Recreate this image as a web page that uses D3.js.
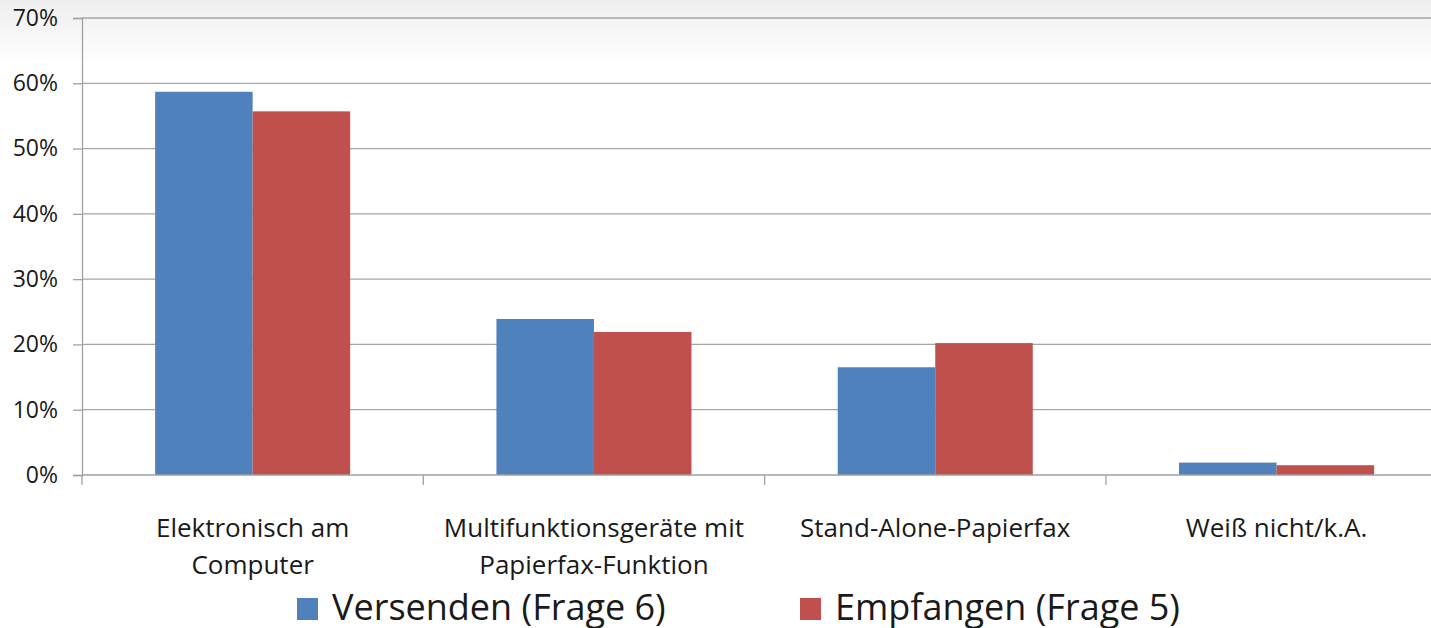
<!DOCTYPE html>
<html>
<head>
<meta charset="utf-8">
<style>
  body { margin: 0; background: #fff; }
  svg text { font-family: "Open Sans", sans-serif; fill: #1a1a1a; }
</style>
</head>
<body>
<script src="https://cdn.jsdelivr.net/npm/d3@7"></script>
<script>
var categories = [["Elektronisch am", "Computer"], ["Multifunktionsgeräte mit", "Papierfax-Funktion"], ["Stand-Alone-Papierfax"], ["Weiß nicht/k.A."]];
var seriesNames = ["Versenden (Frage 6)", "Empfangen (Frage 5)"];
var seriesColors = ["#4f81bd", "#c0504d"];
var versenden = [58.7, 23.9, 16.5, 1.9];
var empfangen = [55.7, 21.9, 20.2, 1.5];
var yTicks = [0, 10, 20, 30, 40, 50, 60, 70];

var width = 1431, height = 628;
var plotLeft = 82, plotTop = 18, plotBottom = 475, catW = 341.3;

var svg = d3.select("body").append("svg").attr("width", width).attr("height", height);

var grad = svg.append("defs").append("linearGradient")
  .attr("id", "bg").attr("x1", 0).attr("y1", 0).attr("x2", 0).attr("y2", 1);
grad.append("stop").attr("offset", 0).attr("stop-color", "#eeeeee");
grad.append("stop").attr("offset", 1).attr("stop-color", "#ffffff");
svg.append("rect").attr("width", width).attr("height", 65).attr("fill", "url(#bg)");

var x0 = d3.scaleBand().domain(d3.range(categories.length)).range([plotLeft, plotLeft + catW * categories.length]);
var x1 = d3.scaleBand().domain([0, 1]).range([0, x0.bandwidth()]).paddingOuter(0.75).paddingInner(0);
var y = d3.scaleLinear().domain([0, 70]).range([plotBottom, plotTop]);

// gridlines
svg.append("g").selectAll("line").data(yTicks.slice(1)).join("line")
  .attr("x1", plotLeft).attr("x2", width)
  .attr("y1", d => y(d)).attr("y2", d => y(d))
  .attr("stroke", "#a6a6a6").attr("stroke-width", 1.3);

// y axis
var yAxis = svg.append("g").attr("transform", "translate(" + plotLeft + ",0)")
  .call(d3.axisLeft(y).tickValues(yTicks).tickFormat(d => d + "%").tickSize(9).tickPadding(15));
yAxis.select(".domain").attr("stroke", "#a0a0a0").attr("stroke-width", 1.3);
yAxis.selectAll(".tick line").attr("stroke", "#a0a0a0").attr("stroke-width", 1.3);
yAxis.selectAll("text").attr("font-size", 23).attr("fill", "#1a1a1a").style("font-family", "'Open Sans', sans-serif");

// bars
var data = categories.map((c, i) => [versenden[i], empfangen[i]]);
svg.append("g").selectAll("g").data(data).join("g")
  .attr("transform", (d, i) => "translate(" + x0(i) + ",0)")
  .selectAll("rect").data(d => d).join("rect")
  .attr("x", (d, j) => x1(j))
  .attr("width", x1.bandwidth())
  .attr("y", d => y(d))
  .attr("height", d => y(0) - y(d))
  .attr("fill", (d, j) => seriesColors[j]);

// x axis
svg.append("line").attr("x1", plotLeft).attr("x2", width).attr("y1", plotBottom).attr("y2", plotBottom)
  .attr("stroke", "#a0a0a0").attr("stroke-width", 1.3);
svg.append("g").selectAll("line").data(d3.range(categories.length + 1)).join("line")
  .attr("x1", i => plotLeft + i * catW).attr("x2", i => plotLeft + i * catW)
  .attr("y1", plotBottom).attr("y2", plotBottom + 10)
  .attr("stroke", "#a0a0a0").attr("stroke-width", 1.3);

// category labels
var labels = svg.append("g").selectAll("text").data(categories).join("text")
  .attr("text-anchor", "middle").attr("font-size", 26)
  .attr("x", (d, i) => x0(i) + x0.bandwidth() / 2)
  .attr("y", 537);
labels.selectAll("tspan").data(d => d).join("tspan")
  .attr("x", function () { return this.parentNode.getAttribute("x"); })
  .attr("dy", (d, k) => k === 0 ? 0 : 37)
  .text(d => d);

// legend
var legendX = [297, 800];
var lg = svg.append("g").selectAll("g").data(seriesNames).join("g")
  .attr("transform", (d, i) => "translate(" + legendX[i] + ",598)");
lg.append("rect").attr("width", 21).attr("height", 22).attr("fill", (d, i) => seriesColors[i]);
lg.append("text").attr("x", 35).attr("y", 22).attr("font-size", 36).text(d => d);
</script>
</body>
</html>
